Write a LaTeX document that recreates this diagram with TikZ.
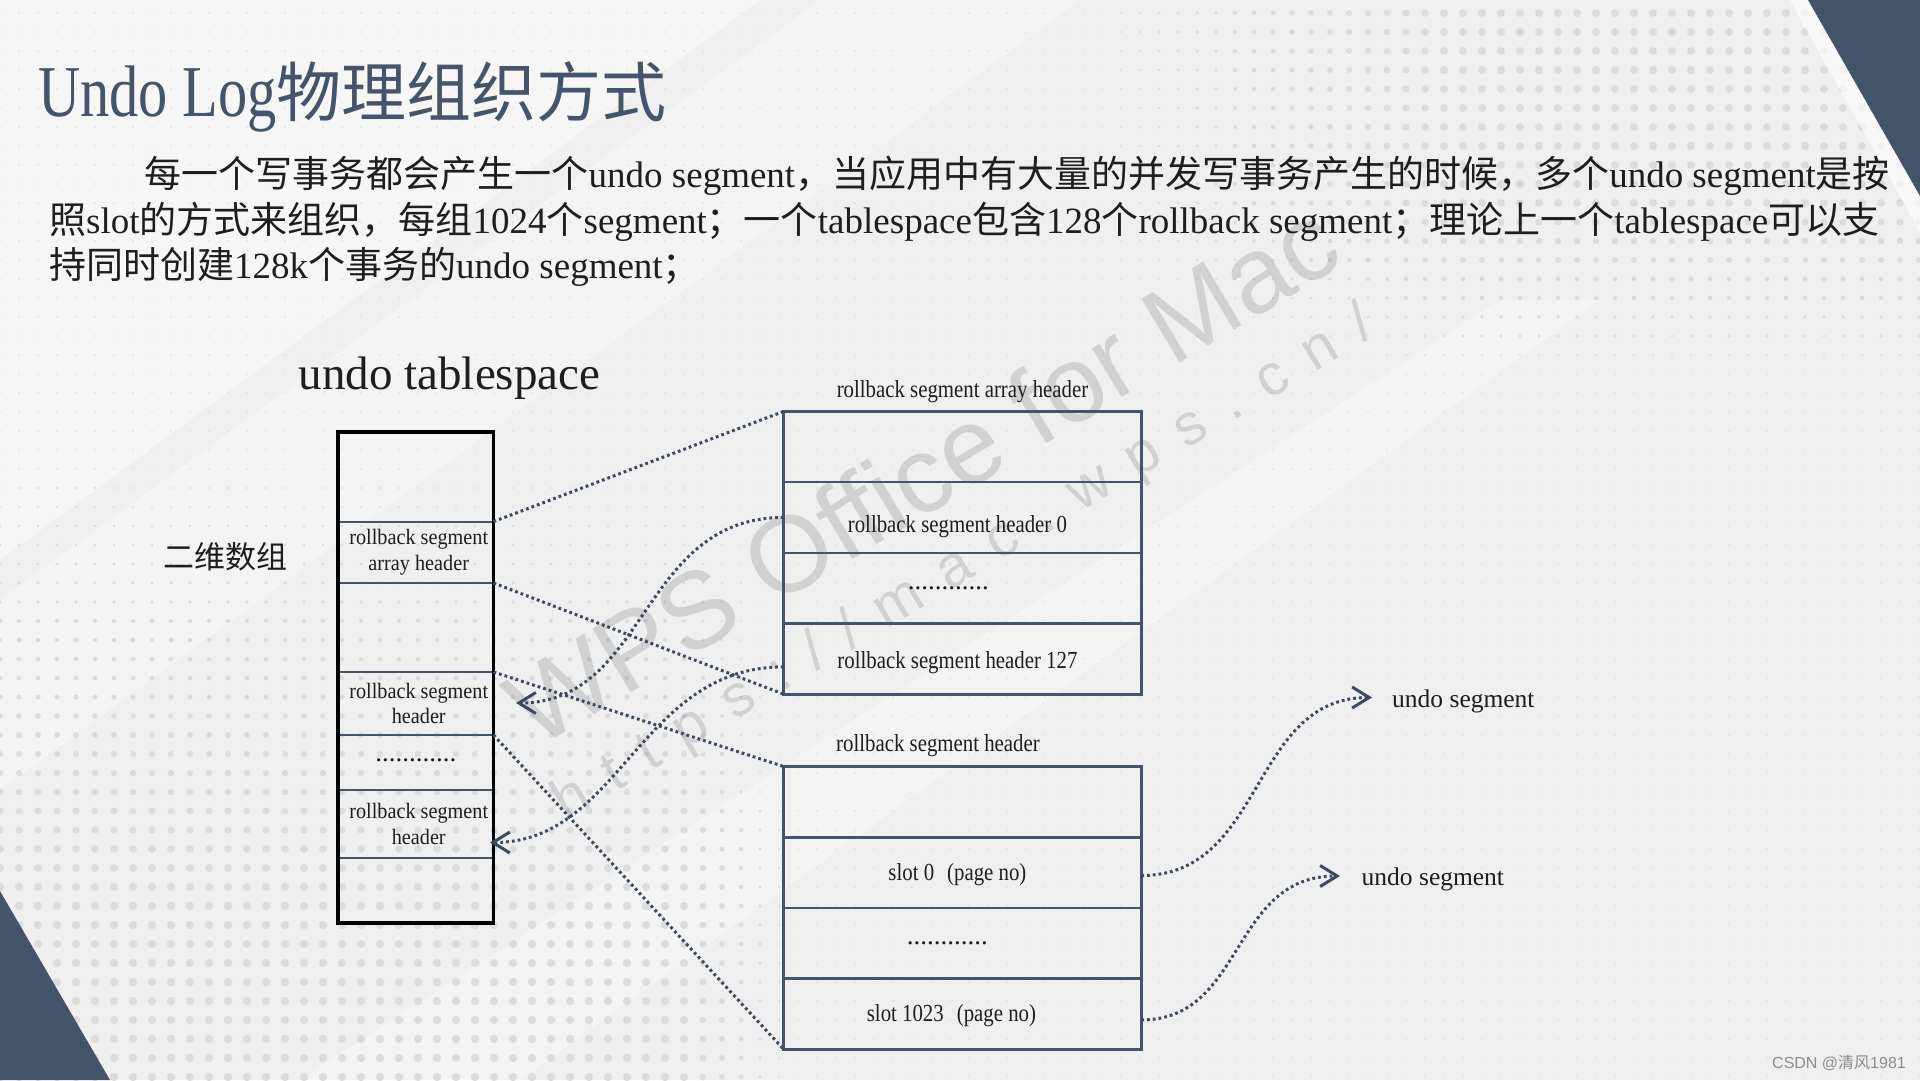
\documentclass[tikz,border=0pt]{standalone}
\usepackage{fontspec}
\setmainfont{Liberation Serif}
\newfontfamily\zhfont{Noto Sans CJK SC}
\newfontfamily\condA[FakeStretch=0.85]{Liberation Serif}
\newfontfamily\condB[FakeStretch=0.8]{Liberation Serif}
\newfontfamily\condC[FakeStretch=0.92]{Liberation Serif}
\newfontfamily\wmfont{Liberation Sans}
\usetikzlibrary{arrows.meta}
\definecolor{slate}{HTML}{44546A}
\definecolor{bgc}{HTML}{EFEFEF}
\definecolor{dotc}{HTML}{DCDCDC}
\definecolor{ink}{HTML}{1E1E1E}
\definecolor{connc}{HTML}{3B4A60}
\newcommand\zh[1]{{\zhfont #1}}
\newcommand\lsp{\kern 25pt\relax}
\tikzset{
  lrow/.style={minimum width=155.5pt, minimum height=#1, inner sep=0pt, outer sep=0pt, anchor=north west},
  rrow/.style={minimum width=357.5pt, minimum height=70.7pt, inner sep=0pt, outer sep=0pt, anchor=north west},
  lsep/.style={draw=slate, line width=2.2pt},
  lframe/.style={draw=black, line width=3.2pt},
  rframe/.style={draw=slate, line width=3pt},
  rsep/.style={draw=slate, line width=2.6pt},
  ltxt/.style={text=ink, align=center, inner sep=0pt, font=\condC\fontsize{22}{25.5}\selectfont},
  rtxt/.style={text=ink, inner sep=0pt, font=\condA\fontsize{24.5}{28}\selectfont},
  dotstxt/.style={text=ink, inner sep=0pt, font=\fontsize{27}{27}\selectfont},
  para/.style={text=ink, inner sep=0pt, anchor=base west, font=\fontsize{37}{45}\selectfont},
  conn/.style={draw=connc, line width=3pt, dash pattern=on 2.8pt off 3pt},
  arr/.style={conn, -{Straight Barb[length=17pt,width=21pt,line width=3pt]}},
  wm/.style={text=black, opacity=0.12, inner sep=0pt, anchor=base west, rotate=31},
}
\begin{document}
\begin{tikzpicture}[x=1pt,y=-1pt]
\useasboundingbox (0,0) rectangle (1920,1080);
% background
\fill[bgc] (0,0) rectangle (1920,1080);
\fill[white,opacity=0.45] (0,0) -- (760,0) -- (0,560) -- cycle;
\fill[white,opacity=0.3] (0,600) -- (820,0) -- (1080,0) -- (0,790) -- cycle;
\fill[white,opacity=0.3] (300,1080) -- (1500,300) -- (1600,300) -- (520,1080) -- cycle;
% dot grid
\foreach \i in {0,...,101}{
  \foreach \j in {0,...,56}{
    \pgfmathsetmacro\dX{19*\i}
    \pgfmathsetmacro\dY{13+19*\j}
    \pgfmathsetmacro\dRa{4.2*min(1,max(0,(\dY-350)/550))*min(1,max(0,(820-\dX)/140))}
    \pgfmathsetmacro\dRb{4*min(1,max(0,(\dX-1000)/450))*min(1,max(0,(420-\dY)/220))}
    \pgfmathsetmacro\dR{max(0.9,\dRa,\dRb)}
    \fill[dotc] (\dX,\dY) circle[radius=\dR];
  }
}
% corner triangles
\fill[white,opacity=0.6] (1790,0) -- (1808,0) -- (1920,196) -- (1920,232) -- cycle;
\fill[slate] (1808,0) -- (1920,0) -- (1920,196) -- cycle;
\fill[slate] (0,891) -- (110,1080) -- (0,1080) -- cycle;
% watermark
\node[wm, font=\wmfont\fontsize{108}{108}\selectfont] (wm1) at (536,750) {WPS Office for Mac};
\node[wm, font=\wmfont\fontsize{58}{58}\selectfont] (wm2) at (566,822) {h\lsp t\lsp t\lsp p\lsp s\lsp :\lsp /\lsp /\lsp m\lsp a\lsp c\lsp .\lsp w\lsp p\lsp s\lsp .\lsp c\lsp n\lsp /};
\node[anchor=east, inner sep=0pt, text=black!45, font=\wmfont\fontsize{16}{16}\selectfont] (csdn) at (1906,1063) {CSDN @\zh{清风}1981};
% title and paragraph
\node[anchor=base west, inner sep=0pt, text=slate] (title) at (38,116) {\condB\fontsize{73}{73}\selectfont Undo Log\zh{\fontsize{65}{65}\selectfont 物理组织方式}};
\node[para] (p1) at (144.5,187.5) {\zh{每一个写事务都会产生一个}undo segment\zh{，当应用中有大量的并发写事务产生的时候，多个}undo segment\zh{是按}};
\node[para] (p2) at (49,233) {\zh{照}slot\zh{的方式来组织，每组}1024\zh{个}segment\zh{；一个}tablespace\zh{包含}128\zh{个}rollback segment\zh{；理论上一个}tablespace\zh{可以支}};
\node[para] (p3) at (49,278) {\zh{持同时创建}128k\zh{个事务的}undo segment\zh{；}};
% headings
\node[anchor=base, inner sep=0pt, text=ink, font=\fontsize{47}{47}\selectfont] (ut) at (449.5,389.5) {undo tablespace};
\node[anchor=west, inner sep=0pt, text=ink, font=\zhfont\fontsize{31}{31}\selectfont] (ewsz) at (163,557) {二维数组};
% left box
\node[lrow=89.6pt] (L1) at (338,432) {};
\node[lrow=61.4pt] (L2) at (338,521.6) {};
\node[lrow=89pt] (L3) at (338,583) {};
\node[lrow=63pt] (L4) at (338,672) {};
\node[lrow=55pt] (L5) at (338,735) {};
\node[lrow=68pt] (L6) at (338,790) {};
\node[lrow=65pt] (L7) at (338,858) {};
\foreach \r in {L2,L3,L4,L5,L6,L7}{\draw[lsep] (\r.north west) -- (\r.north east);}
\draw[lframe] (L1.north west) rectangle (L7.south east);
\node[ltxt] (L2t) at ([xshift=3pt]L2.center) {rollback segment\\array header};
\node[ltxt] (L4t) at ([xshift=3pt]L4.center) {rollback segment\\header};
\node[dotstxt] (L5t) at ([yshift=2pt]L5.center) {............};
\node[ltxt] (L6t) at ([xshift=3pt]L6.center) {rollback segment\\header};
% right top box
\node[rrow] (R1) at (783.7,411.4) {};
\node[rrow] (R2) at (783.7,482.1) {};
\node[rrow] (R3) at (783.7,552.8) {};
\node[rrow] (R4) at (783.7,623.5) {};
\foreach \r in {R2,R3,R4}{\draw[rsep] (\r.north west) -- (\r.north east);}
\draw[rframe] (R1.north west) rectangle (R4.south east);
\node[rtxt, anchor=base] (hR) at (962.5,397) {rollback segment array header};
\node[rtxt] (R2t) at ([xshift=-5pt,yshift=-9pt]R2.center) {rollback segment header 0};
\node[dotstxt] (R3t) at ([xshift=-14pt]R3.center) {............};
\node[rtxt] (R4t) at ([xshift=-5pt,yshift=-4pt]R4.center) {rollback segment header 127};
% right bottom box
\node[rrow] (S1) at (783.7,766.5) {};
\node[rrow] (S2) at (783.7,837.2) {};
\node[rrow] (S3) at (783.7,907.9) {};
\node[rrow] (S4) at (783.7,978.6) {};
\foreach \r in {S2,S3,S4}{\draw[rsep] (\r.north west) -- (\r.north east);}
\draw[rframe] (S1.north west) rectangle (S4.south east);
\node[rtxt, anchor=base] (hS) at (938,751) {rollback segment header};
\node[rtxt] (S2t) at ([xshift=-5pt,yshift=-2pt]S2.center) {slot 0\hspace{13pt}(page no)};
\node[dotstxt] (S3t) at ([xshift=-15pt]S3.center) {............};
\node[rtxt] (S4t) at ([xshift=-11pt,yshift=-2pt]S4.center) {slot 1023\hspace{13pt}(page no)};
% undo segment labels
\node[anchor=base west, inner sep=0pt, text=ink, font=\fontsize{25.5}{25.5}\selectfont] (u1) at (1392,707) {undo segment};
\node[anchor=base west, inner sep=0pt, text=ink, font=\fontsize{25.5}{25.5}\selectfont] (u2) at (1361.5,885) {undo segment};
\coordinate (t1) at (516,703);
\coordinate (t2) at (490,842.5);
\coordinate (t3) at (1372,697.5);
\coordinate (t4) at (1340,876);
% connectors
\draw[conn] (L2.north east) -- (R1.north west);
\draw[conn] (L3.north east) -- (R4.south west);
\draw[conn] (L4.north east) -- (S1.north west);
\draw[conn] (L5.north east) -- (S4.south west);
\draw[arr] (R2.west) .. controls +(-144,0) and +(132,0) .. (t1);
\draw[arr] ([yshift=-8pt]R4.west) .. controls +(-144,0) and +(130,0) .. (t2);
\draw[arr] ([yshift=-3pt]S2.east) .. controls +(124,0) and +(-122,0) .. (t3);
\draw[arr] ([yshift=-6pt]S4.east) .. controls +(104,0) and +(-110,0) .. (t4);
\end{tikzpicture}
\end{document}
